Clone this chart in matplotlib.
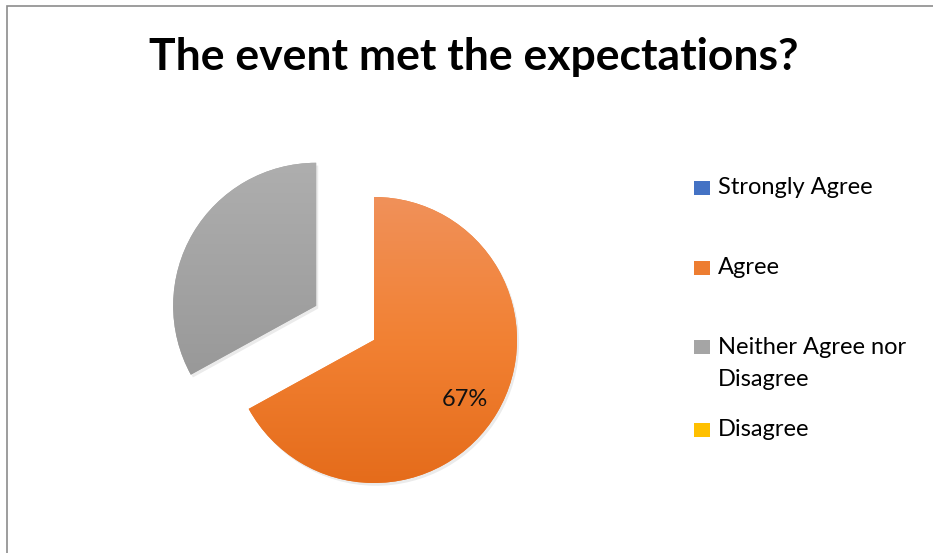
import numpy as np
import matplotlib
matplotlib.use("Agg")
import matplotlib.pyplot as plt
from matplotlib.colors import LinearSegmentedColormap
from matplotlib.patches import Rectangle
from matplotlib import patheffects as pe

# ── Data ──
categories = ["Strongly Agree", "Agree", "Neither Agree nor\nDisagree", "Disagree"]
shares = [0, 67, 33, 0]
explode = [0, 0, 0.47, 0]
base_colors = ["#4472C4", "#ED7D31", "#A5A5A5", "#FFC000"]
gradients = [
    ["#5B87D6", "#3A64B4"],
    ["#F0915A", "#F28133", "#E56C1B"],
    ["#AEAEAE", "#A0A0A0", "#919191"],
    ["#FFCB2E", "#EDB300"],
]
title = "The event met the expectations?"

plt.rcParams["font.family"] = ["Lato", "DejaVu Sans"]

W, H = 933, 553
fig = plt.figure(figsize=(W / 100, H / 100), dpi=100)
fig.patch.set_facecolor("white")

# pie centre / radius in pixels (layout only)
cx, cy, R = 374, 340, 143
ax = fig.add_axes([0, 0, 1, 1])
ax.axis("off")

wedges, _, autotexts = ax.pie(
    shares, explode=explode, colors=base_colors, startangle=90,
    counterclock=False, autopct=lambda p: f"{p:.0f}%" if p > 50 else "",
    pctdistance=0.76, textprops=dict(fontsize=17, color="#111111"),
    normalize=True,
)

# gradient fills clipped to each wedge + soft shadow
for w, g in zip(wedges, gradients):
    if abs(w.theta2 - w.theta1) < 1e-6:
        continue
    w.set_path_effects([pe.SimplePatchShadow(offset=(1.5, -2), alpha=0.08,
                                             shadow_rgbFace="black"),
                        pe.Normal()])
    x0, y0 = w.center
    r = w.r
    cmap = LinearSegmentedColormap.from_list("g", g)
    grad = np.linspace(0, 1, 256)[:, None]
    im = ax.imshow(grad, cmap=cmap, extent=[x0 - r, x0 + r, y0 - r, y0 + r],
                   origin="upper", aspect="auto", zorder=w.get_zorder() + 0.1,
                   interpolation="bilinear")
    im.set_clip_path(w)

for t in autotexts:
    t.set_zorder(5)
    x, y = t.get_position()
    t.set_position((x - 0.02, y - 0.03))

ax.set_xlim(-cx / R, (W - cx) / R)
ax.set_ylim(-(H - cy) / R, cy / R)
ax.set_aspect("auto")

# title
fig.text(474 / W, 1 - 57 / H, title, ha="center", va="center",
         fontsize=32, fontweight="bold", color="black")

# legend, drawn by hand to follow the reference spacing
leg_y = [188, 268, 347, 430]
line_gap = 33
for lab, col, y in zip(categories, base_colors, leg_y):
    fig.patches.append(Rectangle((694 / W, 1 - (y + 7) / H), 16 / W, 14 / H,
                                 transform=fig.transFigure, facecolor=col,
                                 edgecolor="none"))
    for i, line in enumerate(lab.split("\n")):
        fig.text(718 / W, 1 - (y + i * line_gap) / H, line, ha="left",
                 va="center", fontsize=17, color="black")

# chart border (left and top visible)
fig.patches.append(Rectangle((6.5 / W, -0.1), 1.2, 1 - 5.5 / H + 0.1,
                             transform=fig.transFigure, facecolor="none",
                             edgecolor="#8C8C8C", linewidth=1.2))

fig.savefig("out.png", dpi=100)
